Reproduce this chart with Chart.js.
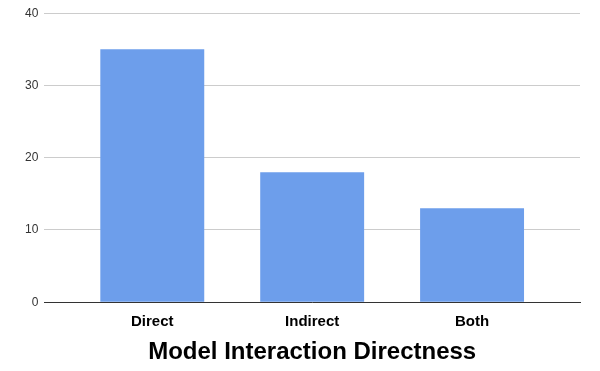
<!DOCTYPE html>
<html>
<head>
<meta charset="utf-8">
<script src="https://cdn.jsdelivr.net/npm/chart.js@4"></script>
<style>
  html, body { margin: 0; padding: 0; background: #fff; }
  #wrap { width: 600px; height: 371px; }
</style>
</head>
<body>
<div id="wrap"><canvas id="chart" width="600" height="371"></canvas></div>
<script>
// Datos
const categories = ['Direct', 'Indirect', 'Both'];
const counts = [35, 18, 13];
const yTicks = [0, 10, 20, 30, 40];

// las barras se colocan en 0, 1, 2 sobre un eje lineal con margen a los lados
const points = counts.map((v, i) => ({ x: i, y: v }));

const config = {
    type: 'bar',
    data: {
        datasets: [{
            label: 'Count',
            data: points,
            backgroundColor: '#6d9eeb',
            borderWidth: 0,
            barPercentage: 0.65,
            categoryPercentage: 1
        }]
    },
    options: {
        responsive: false,
        animation: false,
        layout: { padding: { top: 5, right: 20, left: 19, bottom: 4 } },
        plugins: {
            legend: { display: false },
            tooltip: { enabled: false }
        },
        scales: {
            x: {
                type: 'linear',
                min: -0.675,
                max: categories.length - 1 + 0.675,
                offset: false,
                afterBuildTicks: axis => { axis.ticks = categories.map((c, i) => ({ value: i })); },
                grid: { display: false },
                border: { color: '#333', width: 1 },
                ticks: {
                    color: '#000',
                    font: { family: 'Liberation Sans, Arial', size: 15, weight: 'bold' },
                    padding: 3,
                    callback: value => categories[value]
                },
                title: {
                    display: true,
                    text: 'Model Interaction Directness',
                    color: '#000',
                    font: { family: 'Liberation Sans, Arial', size: 24, weight: 'bold' },
                    padding: { top: 4, bottom: 0 }
                }
            },
            y: {
                min: yTicks[0],
                max: yTicks[yTicks.length - 1],
                afterBuildTicks: axis => { axis.ticks = yTicks.map(v => ({ value: v })); },
                grid: { color: '#cccccc', drawTicks: false },
                border: { display: false },
                ticks: {
                    color: '#333',
                    font: { family: 'Liberation Sans, Arial', size: 12 },
                    padding: 6
                }
            }
        }
    }
};

const chart = new Chart(document.getElementById('chart'), config);
</script>
</body>
</html>
